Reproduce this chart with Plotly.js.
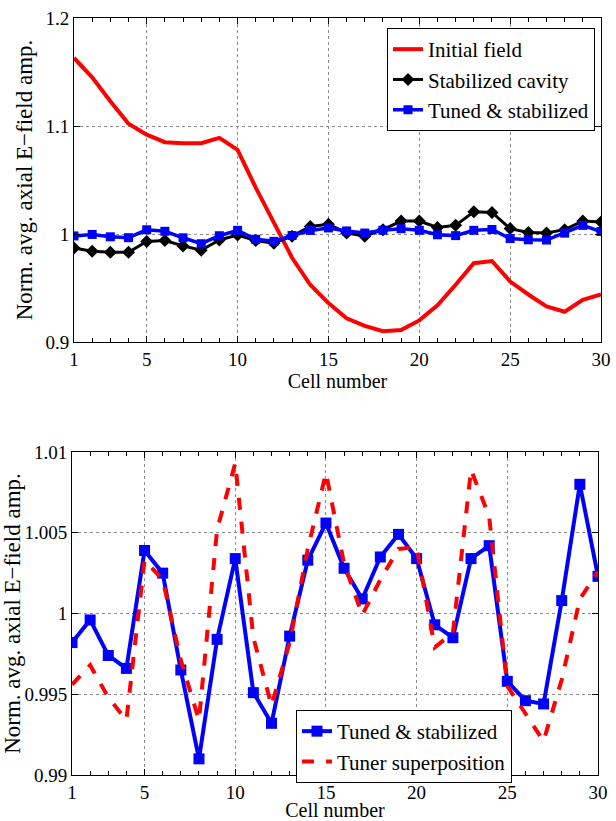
<!DOCTYPE html>
<html>
<head>
<meta charset="utf-8">
<script src="https://cdn.plot.ly/plotly-3.0.1.min.js"></script>
<style>
html,body{margin:0;padding:0;background:#fff;font-family:'Liberation Serif';}
#warm{position:absolute;left:2px;top:2px;font-family:'Liberation Serif';font-size:20px;color:#fff;z-index:0;}
#chart{position:absolute;left:0;top:0;width:616px;height:821px;z-index:1;}
</style>
</head>
<body>
<div id="warm">&nbsp;&nbsp;</div>
<div id="chart"></div>
<script>
// ---- data ----
const cells = [1,2,3,4,5,6,7,8,9,10,11,12,13,14,15,16,17,18,19,20,21,22,23,24,25,26,27,28,29,30];
const initialField = [1.163,1.145,1.123,1.102,1.092,1.085,1.084,1.084,1.089,1.078,1.043,1.011,0.978,0.953,0.936,0.922,0.915,0.910,0.911,0.920,0.934,0.953,0.973,0.975,0.956,0.944,0.933,0.928,0.939,0.944];
const stabilizedCavity = [0.987,0.984,0.983,0.983,0.993,0.994,0.989,0.985,0.9945,0.999,0.994,0.9915,0.998,1.007,1.009,1.001,0.998,1.004,1.012,1.012,1.006,1.008,1.0205,1.020,1.005,1.0015,1.001,1.004,1.012,1.011];
const tunedStabilized = [0.9982,0.9996,0.9974,0.9966,1.0039,1.0025,0.9965,0.9910,0.9984,1.0034,0.9951,0.9932,0.9986,1.0033,1.0056,1.0028,1.0009,1.0035,1.0049,1.0034,0.9993,0.9985,1.0034,1.0042,0.9958,0.9946,0.9944,1.0008,1.0080,1.0023];
const tunerSuperposition = [0.9956,0.9968,0.9948,0.9934,1.0033,1.0021,0.9971,0.9934,1.0052,1.0093,0.9985,0.9943,0.9982,1.0040,1.0087,1.0031,0.9999,1.0021,1.0040,1.0041,0.9979,0.9988,1.0089,1.0060,0.9955,0.9938,0.9921,0.9959,1.0009,1.0026];
const xTickVals = [1,5,10,15,20,25,30];
const xTickText = ['1','5','10','15','20','25','30'];
const yTopTickVals = [0.9,1.0,1.1,1.2];
const yTopTickText = ['0.9','1','1.1','1.2'];
const yBotTickVals = [0.99,0.995,1.0,1.005,1.01];
const yBotTickText = ['0.99','0.995','1','1.005','1.01'];

const FONT = 'Liberation Serif';
const W = 616, H = 821;

const traces = [
  {x: cells, y: initialField, name: 'Initial field', type: 'scatter', mode: 'lines',
   line: {color: '#ff0000', width: 4}, xaxis: 'x', yaxis: 'y', legend: 'legend'},
  {x: cells, y: stabilizedCavity, name: 'Stabilized cavity', type: 'scatter', mode: 'lines+markers',
   line: {color: '#000000', width: 3}, marker: {symbol: 'diamond', size: 10, color: '#000000'},
   xaxis: 'x', yaxis: 'y', legend: 'legend'},
  {x: cells, y: tunedStabilized, name: 'Tuned &amp; stabilized', type: 'scatter', mode: 'lines+markers',
   line: {color: '#0000ff', width: 3.5}, marker: {symbol: 'square', size: 9, color: '#0000ff'},
   xaxis: 'x', yaxis: 'y', legend: 'legend'},
  {x: cells, y: tunedStabilized, name: 'Tuned &amp; stabilized', type: 'scatter', mode: 'lines+markers',
   line: {color: '#0000ff', width: 4}, marker: {symbol: 'square', size: 11, color: '#0000ff'},
   xaxis: 'x2', yaxis: 'y2', legend: 'legend2'},
  {x: cells, y: tunerSuperposition, name: 'Tuner superposition', type: 'scatter', mode: 'lines',
   line: {color: '#ff0000', width: 4, dash: 'dash'},
   xaxis: 'x2', yaxis: 'y2', legend: 'legend2'}
];

function xax(domain, anchor) {
  return {
    domain: domain, anchor: anchor, range: [1, 30],
    tickmode: 'array', tickvals: xTickVals, ticktext: xTickText,
    ticks: 'inside', ticklen: 6, tickcolor: '#000', mirror: 'ticks',
    showline: true, linecolor: '#000', linewidth: 1,
    showgrid: true, gridcolor: '#8a8a8a', griddash: 'dot', gridwidth: 1,
    zeroline: false,
    minor: {tickmode: 'linear', tick0: 1, dtick: 1, ticks: 'inside', ticklen: 4, tickcolor: '#000', showgrid: false},
    tickfont: {family: FONT, size: 19, color: '#000'},
    title: {text: 'Cell number', font: {family: FONT, size: 20, color: '#000'}, standoff: 0}
  };
}
function yax(domain, anchor, range, tv, tt) {
  return {
    domain: domain, anchor: anchor, range: range,
    tickmode: 'array', tickvals: tv, ticktext: tt,
    ticks: 'inside', ticklen: 6, tickcolor: '#000', mirror: 'ticks',
    showline: true, linecolor: '#000', linewidth: 1,
    showgrid: true, gridcolor: '#8a8a8a', griddash: 'dot', gridwidth: 1,
    zeroline: false,
    tickfont: {family: FONT, size: 19, color: '#000'},
    title: {text: 'Norm. avg. axial E\u2212field amp.', font: {family: FONT, size: 23, color: '#000'}, standoff: 6}
  };
}

const layout = {
  width: W, height: H,
  margin: {l: 0, r: 0, t: 0, b: 0},
  paper_bgcolor: '#fff', plot_bgcolor: '#fff',
  showlegend: true,
  xaxis: xax([74 / W, 601 / W], 'y'),
  yaxis: yax([1 - 342 / H, 1 - 18 / H], 'x', [0.9, 1.2], yTopTickVals, yTopTickText),
  xaxis2: xax([72 / W, 598 / W], 'y2'),
  yaxis2: yax([1 - 775 / H, 1 - 452 / H], 'x2', [0.99, 1.01], yBotTickVals, yBotTickText),
  legend: {x: 595 / W, xanchor: 'right', y: 1 - 28 / H, yanchor: 'top',
    bgcolor: '#fff', bordercolor: '#000', borderwidth: 1,
    font: {family: FONT, size: 21, color: '#000'}, tracegroupgap: 0},
  legend2: {x: 512 / W, xanchor: 'right', y: 1 - 710 / H, yanchor: 'top',
    bgcolor: '#fff', bordercolor: '#000', borderwidth: 1,
    font: {family: FONT, size: 21, color: '#000'}, tracegroupgap: 0}
};

const config = {displayModeBar: false, staticPlot: true};
Plotly.newPlot('chart', traces, layout, config);
if (document.fonts && document.fonts.load) {
  document.fonts.load('20px "Liberation Serif"').then(function () {
    Plotly.react('chart', traces, layout, config);
  });
}
</script>
</body>
</html>
